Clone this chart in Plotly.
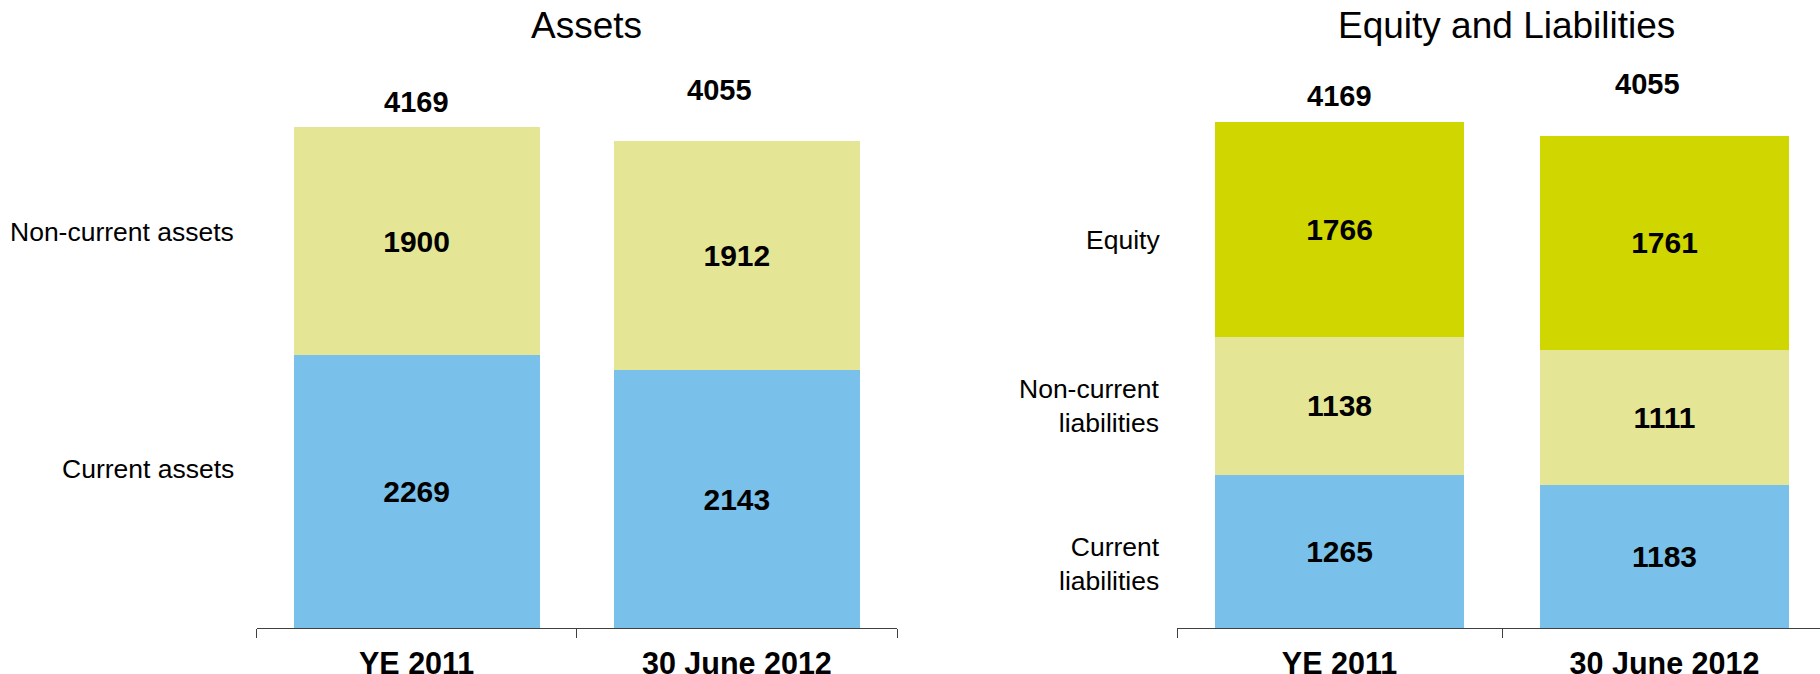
import plotly.graph_objects as go

# ---- data ----
periods = ["YE 2011", "30 June 2012"]
current_assets = [2269, 2143]
noncurrent_assets = [1900, 1912]
assets_total = [4169, 4055]

current_liab = [1265, 1183]
noncurrent_liab = [1138, 1111]
equity = [1766, 1761]
el_total = [4169, 4055]

BLUE = "#79C0EA"
KHAKI = "#E5E596"
LIME = "#D0D600"
FONT = "Liberation Sans, Arial, sans-serif"

fig = go.Figure()

def add_bar(vals, color, xa, ya, name):
    fig.add_trace(go.Bar(
        x=periods, y=vals, name=name, marker=dict(color=color, line=dict(width=0)),
        xaxis=xa, yaxis=ya,
        text=vals, texttemplate="%{y}", textposition="inside",
        insidetextanchor="middle", constraintext="none",
        textfont=dict(family=FONT, size=30, color="black", weight="bold"),
        hoverinfo="skip", showlegend=False,
    ))

add_bar(current_assets, BLUE, "x", "y", "Current assets")
add_bar(noncurrent_assets, KHAKI, "x", "y", "Non-current assets")
add_bar(current_liab, BLUE, "x2", "y2", "Current liabilities")
add_bar(noncurrent_liab, KHAKI, "x2", "y2", "Non-current liabilities")
add_bar(equity, LIME, "x2", "y2", "Equity")

ann = []
# totals
shifts = [25, 51]
xshifts = [0, -17]
for i, p in enumerate(periods):
    ann.append(dict(x=p, y=assets_total[i], xref="x", yref="y", text=str(assets_total[i]),
                    showarrow=False, yanchor="middle", yshift=shifts[i], xshift=xshifts[i],
                    font=dict(family=FONT, size=29, color="black", weight="bold")))
    ann.append(dict(x=p, y=el_total[i], xref="x2", yref="y2", text=str(el_total[i]),
                    showarrow=False, yanchor="middle", yshift=shifts[i] + 1, xshift=xshifts[i],
                    font=dict(family=FONT, size=29, color="black", weight="bold")))

# row labels
rowfont = dict(family=FONT, size=26.5, color="black")
ann.append(dict(x=235.6 / 1820, xref="paper", y=current_assets[0] + noncurrent_assets[0] / 2, yref="y",
                text="Non-current assets", showarrow=False, xanchor="right", yanchor="middle",
                yshift=9, font=rowfont, align="right"))
ann.append(dict(x=235.6 / 1820, xref="paper", y=current_assets[0] / 2, yref="y",
                text="Current assets", showarrow=False, xanchor="right", yanchor="middle",
                yshift=23, font=rowfont, align="right"))
ann.append(dict(x=1162 / 1820, xref="paper", y=current_liab[0] + noncurrent_liab[0] + equity[0] / 2, yref="y2",
                text="Equity", showarrow=False, xanchor="right", yanchor="middle",
                yshift=-11, font=rowfont, align="right"))
ann.append(dict(x=1162 / 1820, xref="paper", y=current_liab[0] + noncurrent_liab[0] / 2, yref="y2",
                text="Non-current<br>liabilities", showarrow=False, xanchor="right", yanchor="middle",
                yshift=0, font=rowfont, align="right"))
ann.append(dict(x=1162 / 1820, xref="paper", y=current_liab[0] / 2, yref="y2",
                text="Current<br>liabilities", showarrow=False, xanchor="right", yanchor="middle",
                yshift=-13, font=rowfont, align="right"))

# titles
titlefont = dict(family=FONT, size=37, color="black")
ann.append(dict(x=586 / 1820, y=1 - 25.5 / 674, xref="paper", yref="paper", text="Assets",
                showarrow=False, xanchor="center", yanchor="middle", font=titlefont))
ann.append(dict(x=1506 / 1820, y=1 - 25.5 / 674, xref="paper", yref="paper", text="Equity and Liabilities",
                showarrow=False, xanchor="center", yanchor="middle", font=titlefont))

ybottom = (674 - 628) / 674
xaxis_common = dict(type="category", showline=True, linecolor="#404040", linewidth=1,
                    ticks="outside", tickson="boundaries", ticklen=9, tickcolor="#404040",
                    showgrid=False, zeroline=False, ticklabelstandoff=8, automargin=False,
                    tickfont=dict(family=FONT, size=30.5, color="black", weight="bold"))

fig.update_layout(
    width=1820, height=674,
    margin=dict(l=0, r=0, t=0, b=0, autoexpand=False),
    paper_bgcolor="white", plot_bgcolor="white",
    barmode="stack", bargap=0.232,
    xaxis=dict(domain=[256.5 / 1820, 897 / 1820], range=[-0.5, 1.5], anchor="y", **xaxis_common),
    xaxis2=dict(domain=[1177 / 1820, 1.0], range=[-0.5, -0.5 + 643 / 325], anchor="y2", **xaxis_common),
    yaxis=dict(domain=[ybottom, (674 - 27) / 674], range=[0, 5000], visible=False),
    yaxis2=dict(domain=[ybottom, (674 - 21.5) / 674], range=[0, 5000], visible=False),
    annotations=ann,
    font=dict(family=FONT),
)

fig.write_html("out.html")
